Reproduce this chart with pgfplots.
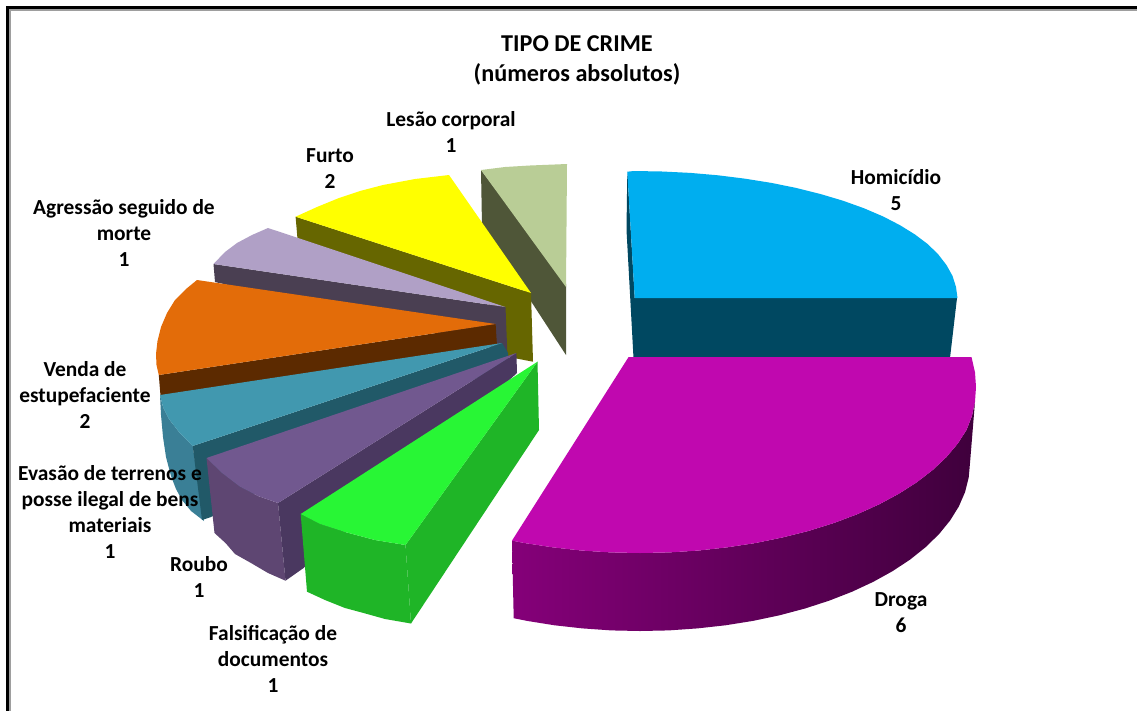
\documentclass[border=0pt]{standalone}
\usepackage{pgfplots}
\pgfplotsset{compat=1.18}
\usepackage{fontspec}
\setmainfont{Carlito}

% Slice colours: top face, radial wall, outer wall
\definecolor{blueTop}{HTML}{00AEEF}
\definecolor{blueWall}{HTML}{004861}
\definecolor{magTop}{HTML}{C008AF}
\definecolor{magWallA}{HTML}{850079}
\definecolor{magWallB}{HTML}{4A0046}
\definecolor{magWallC}{HTML}{3F003C}
\definecolor{greenTop}{HTML}{28F635}
\definecolor{greenWall}{HTML}{1FB527}
\definecolor{purpleTop}{HTML}{71588F}
\definecolor{purpleOut}{HTML}{5E4672}
\definecolor{purpleWall}{HTML}{4A3860}
\definecolor{tealTop}{HTML}{4198AF}
\definecolor{tealOut}{HTML}{3A7F96}
\definecolor{tealWall}{HTML}{215968}
\definecolor{orangeTop}{HTML}{E36C09}
\definecolor{orangeWall}{HTML}{5C2A00}
\definecolor{lilacTop}{HTML}{B0A0C6}
\definecolor{lilacWall}{HTML}{4A3F52}
\definecolor{yellowTop}{HTML}{FFFF00}
\definecolor{yellowWall}{HTML}{666600}
\definecolor{sageTop}{HTML}{B9CD96}
\definecolor{sageWall}{HTML}{4F5638}

\tikzset{
  lab/.style={font=\bfseries\fontsize{21.4}{26}\selectfont, align=center, text=black, inner sep=0pt},
  ttl/.style={font=\bfseries\fontsize{24.2}{30}\selectfont, align=center, text=black, inner sep=0pt}}

\begin{document}
\begin{tikzpicture}
\begin{axis}[
  scale only axis, width=1137pt, height=710pt,
  xmin=0, xmax=1137, ymin=0, ymax=710, y dir=reverse,
  axis lines=none, ticks=none, clip=true]

% page background and frame
\addplot[draw=none, fill=white] coordinates {(0,0)(1137,0)(1137,710)(0,710)} --cycle;
\addplot[draw=black!38, line width=2.5pt] coordinates {(9.7,712)(9.7,9.4)(1139,9.4)};
\addplot[draw=black, line width=2.6pt] coordinates {(7.3,712)(7.3,7.2)(1139,7.2)};

% Lesao corporal
\addplot[draw=none, fill=sageWall] coordinates {(481,170)(482,226)(566,355)(566,284)} --cycle;
\addplot[draw=none, fill=sageTop] coordinates {(481,170)(505,167)(530,165.5)(567,164)(566,287)} --cycle;

% Furto
\addplot[draw=none, fill=yellowWall] coordinates {(295.6,216.7)(531,293)(533,361.7)(507,356.7)(505,310)(297.5,239)} --cycle;
\addplot[draw=none, fill=yellowTop] coordinates {(449,175)(415,179)(383,185)(360,191)(339,198)(317,207)(295.6,216.7)(531,293)} --cycle;

% Agressao seguido de morte
\addplot[draw=none, fill=lilacWall] coordinates {(213.5,264)(505.5,307)(507.5,357)(490,345)(215,282)} --cycle;
\addplot[draw=none, fill=lilacTop] coordinates {(268,228)(252,235)(237,243)(225,252)(213.5,264)(505.5,307)} --cycle;

% Venda de estupefaciente
\addplot[draw=none, fill=orangeWall] coordinates {(158.8,375)(495.6,324)(497,346)(160.6,397)} --cycle;
\addplot[draw=none, fill=orangeTop] coordinates {(197,280)(186,289)(175,300)(167,313)(161,327)(157.5,341)(156,354)(156.5,365)(158.8,375)(495.6,324)} --cycle;

% Evasao de terrenos e posse ilegal de bens materiais
\addplot[draw=none, fill=tealOut] coordinates {(160,395)(163,407)(169,419)(179,432)(192.7,446)(204,521)(191,511)(182,500)(176,489)(171,476)(166,457)(163,437)(161,415)} --cycle;
\addplot[draw=none, fill=tealWall] coordinates {(192.7,446)(502,343)(508,353)(508,362)(300,470)(211,517)(202,520)} --cycle;
\addplot[draw=none, fill=tealTop] coordinates {(160,395)(502,343)(192.7,446)(179,432)(169,419)(163,407)} --cycle;

% Roubo
\addplot[draw=none, fill=purpleOut] coordinates {(206.5,458)(222,473)(240,486.7)(258,496)(278,503)(285.5,580.7)(268,573)(251,563)(235,554)(225.5,543)(214.5,533)} --cycle;
\addplot[draw=none, fill=purpleWall] coordinates {(278,503)(516.4,353)(517,373)(303.6,568)(285.5,580.7)} --cycle;
\addplot[draw=none, fill=purpleTop] coordinates {(516.4,353)(206.5,458)(222,473)(240,486.7)(258,496)(278,503)} --cycle;

% Falsificacao de documentos
\addplot[draw=none, fill=greenWall] coordinates {(300.7,514)(320,524)(345,532)(375,540)(405.5,545)(411,623.5)(385,619)(363.6,613)(345,608)(325,600)(307,591.7)} --cycle;
\addplot[draw=none, fill=greenWall] coordinates {(405.5,545)(537.5,361.7)(539,430)(411,623.5)} --cycle;
\addplot[draw=none, fill=greenTop] coordinates {(537.5,361.7)(300.7,514)(320,524)(345,532)(375,540)(405.5,545)} --cycle;

% Homicidio
\addplot[draw=none, fill=blueWall] coordinates {(627.3,171.7)(626.5,230)(633.5,358)(950,358)(957,298)(634.7,298)} --cycle;
\addplot[draw=none, fill=blueTop] coordinates {(627.3,171.7)(634,171)(662.3,171.5)(690.4,172.9)(718.1,175.3)(745.2,178.7)(771.4,182.9)(796.5,188)(820.4,194)(842.9,200.7)(863.8,208.2)(883,216.4)(900,225.2)(915,234.5)(928,244.3)(938.4,254.6)(946.5,265.1)(952.5,275.9)(956,286.9)(957.5,298)(634.7,298)} --cycle;

% Droga
\addplot[draw=none, left color=magWallA, middle color=magWallB, right color=magWallC] coordinates {
  (975,401.5)(972,415.8)(966.5,430)(957.6,443.8)(946.3,457.2)(932.7,470)(916.9,482.2)(898.9,493.7)(879,504.4)(857.3,514.2)(833.9,523)(809,530.8)(782.8,537.4)(755.6,543)(727.5,547.3)(698.7,550.5)(669.5,552.4)(640,553)(610.5,552.4)(581.3,550.5)(552.5,547.3)(524.4,543)(512,540.6)
  (513.7,618.2)(527.1,620.9)(554.6,625.3)(582.7,628.4)(611.2,630.4)(640,631)(668.8,630.4)(697.3,628.4)(725.4,625.3)(752.9,620.9)(779.5,615.3)(805,608.5)(829.3,600.6)(852.1,591.7)(873.3,581.8)(892.8,571)(910.3,559.4)(925.8,547)(939.1,534)(950.1,520.5)(958.8,506.5)(965,492.2)(968.7,477.6)(970,463)} --cycle;
\addplot[draw=none, fill=magTop] coordinates {
  (628.6,357)(971.5,357)(975,372.5)(976,387)(975,401.5)(972,415.8)(966.5,430)(957.6,443.8)(946.3,457.2)(932.7,470)(916.9,482.2)(898.9,493.7)(879,504.4)(857.3,514.2)(833.9,523)(809,530.8)(782.8,537.4)(755.6,543)(727.5,547.3)(698.7,550.5)(669.5,552.4)(640,553)(610.5,552.4)(581.3,550.5)(552.5,547.3)(524.4,543)(512,540.6)} --cycle;

% Title and data labels
\node[ttl] at (axis cs:577,60.5) {TIPO DE CRIME\\(números absolutos)};
\node[lab] at (axis cs:451,132) {Lesão corporal\\1};
\node[lab] at (axis cs:330,169) {Furto\\2};
\node[lab] at (axis cs:124,233) {Agressão seguido de\\morte\\1};
\node[lab] at (axis cs:896,190) {Homicídio\\5};
\node[lab] at (axis cs:85,395) {Venda de\\estupefaciente\\2};
\node[lab] at (axis cs:110,512) {Evasão de terrenos e\\posse ilegal de bens\\materiais\\1};
\node[lab] at (axis cs:199,577) {Roubo\\1};
\node[lab] at (axis cs:273,659) {Falsificação de\\documentos\\1};
\node[lab] at (axis cs:901,613) {Droga\\6};
\end{axis}
\end{tikzpicture}
\end{document}
